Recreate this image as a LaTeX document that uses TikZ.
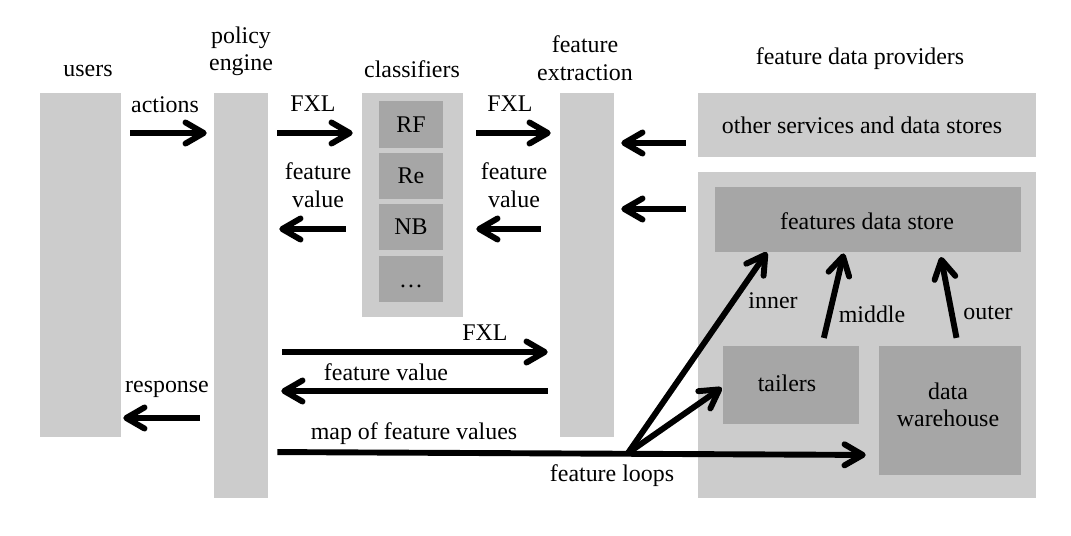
\documentclass[tikz,border=0pt]{standalone}
\usepackage{fontspec}
\setmainfont{Liberation Serif}
\usepackage{xcolor}
\usepackage{tikz}
\usetikzlibrary{arrows.meta, positioning, fit, calc}
\definecolor{barlight}{RGB}{204,204,204}
\definecolor{boxdark}{RGB}{166,166,166}

\begin{document}
\begin{tikzpicture}[
    x=0.025cm, y=-0.025cm,
    every node/.style={font=\fontsize{17}{19.5}\selectfont},
    bar/.style={rectangle, fill=barlight, inner sep=0pt},
    inbox/.style={rectangle, fill=boxdark, inner sep=0pt},
    txt/.style={align=center, inner sep=0pt},
    arr/.style={line width=4.2pt, -{Straight Barb[length=13pt, width=15pt, round]}}
]
\useasboundingbox (0,0) rectangle (1071,535);

% columns
\node[bar, fit={(40,93) (121,437)}] (users) {};
\node[bar, fit={(214,93) (268,498)}] (engine) {};
\node[bar, fit={(362,93) (463,317)}] (classifiers) {};
\node[inbox, fit={(379,101) (443,148)}, label={[txt]center:RF}] (rf) {};
\node[inbox, fit={(379,153) (443,199)}, label={[txt]center:Re}] (re) {};
\node[inbox, fit={(379,204) (443,250)}, label={[txt]center:NB}] (nb) {};
\node[inbox, fit={(379,256) (443,302)}, label={[txt, yshift=-1.8mm]center:\dots}] (more) {};
\node[bar, fit={(560,93) (614,437)}] (extraction) {};

% providers
\node[bar, fit={(698,93) (1036,157)}] (others) {};
\node[txt] (othersl) at (862,125) {other services and data stores};
\node[bar, fit={(698,172) (1036,498)}] (providers) {};
\node[inbox, fit={(715,187) (1021,252)}] (store) {};
\node[txt] (storel) at (867,221) {features data store};
\node[inbox, fit={(723,346) (859,424)}] (tailers) {};
\node[txt] (tailersl) at (787,383) {tailers};
\node[inbox, fit={(879,346) (1021,475)}] (warehouse) {};
\node[txt] (warehousel) at (948,405) {data\\warehouse};

% headers
\node[txt] (usersl) at (88,71) {users};
\node[txt] (enginel) at (241,51) {policy\\engine};
\node[txt] (classifiersl) at (412,69) {classifiers};
\node[txt] (extractionl) at (585,58) {feature\\extraction};
\node[txt] (providersl) at (860,59) {feature data providers};

% request path
\draw[arr, shorten <=2.25mm, shorten >=1.75mm] (users.east |- 0,133) -- (engine.west |- 0,133);
\draw[arr, shorten <=2.25mm, shorten >=2.25mm] (engine.east |- 0,133) -- (classifiers.west |- 0,133);
\draw[arr, shorten <=4mm, shorten >=2.75mm] (classifiers.west |- 0,229) -- (engine.east |- 0,229);
\draw[arr, shorten <=3.25mm, shorten >=2.25mm] (classifiers.east |- 0,133) -- (extraction.west |- 0,133);
\draw[arr, shorten <=4.75mm, shorten >=3.25mm] (extraction.west |- 0,229) -- (classifiers.east |- 0,229);
\draw[arr, shorten <=3mm, shorten >=1.75mm] (others.west |- 0,143) -- (extraction.east |- 0,143);
\draw[arr, shorten <=3mm, shorten >=1.75mm] (providers.west |- 0,209) -- (extraction.east |- 0,209);
\draw[arr, shorten <=3.5mm, shorten >=3mm] (engine.east |- 0,352) -- (extraction.west |- 0,352);
\draw[arr, shorten <=3mm, shorten >=3.25mm] (extraction.west |- 0,391) -- (engine.east |- 0,391);
\draw[arr, shorten <=3.5mm, shorten >=0.5mm] (engine.west |- 0,418) -- (users.east |- 0,418);

% feature loops
\coordinate (loop) at (628,453);
\draw[arr, shorten <=2.25mm, shorten >=3.25mm] (engine.east |- 0,452) -- (warehouse.west |- 0,455);
\draw[arr, shorten >=0.3mm] (loop) -- (tailers.west |- 0,387);
\draw[arr] (loop) -- (767,0 |- store.south);
\draw[arr, shorten <=2mm, shorten >=0.3mm] (822,0 |- tailers.north) -- (844,0 |- store.south);
\draw[arr, shorten <=2mm, shorten >=1.2mm] (958,0 |- warehouse.north) -- (940,0 |- store.south);

% labels
\node[txt] (actionsl) at (165,105) {actions};
\node[txt] (fxla) at (313,104) {FXL};
\node[txt] (fvala) at (318,185) {feature\\value};
\node[txt] (fxlb) at (510,104) {FXL};
\node[txt] (fvalb) at (514,185) {feature\\value};
\node[txt] (fxlc) at (485,333) {FXL};
\node[txt] (fvalc) at (386,372) {feature value};
\node[txt] (responsel) at (167,389) {response};
\node[txt] (mapl) at (414,434) {map of feature values};
\node[txt] (loopsl) at (612,476) {feature loops};
\node[txt] (innerl) at (773,301) {inner};
\node[txt] (middlel) at (872,314) {middle};
\node[txt] (outerl) at (988,313) {outer};

\end{tikzpicture}
\end{document}
